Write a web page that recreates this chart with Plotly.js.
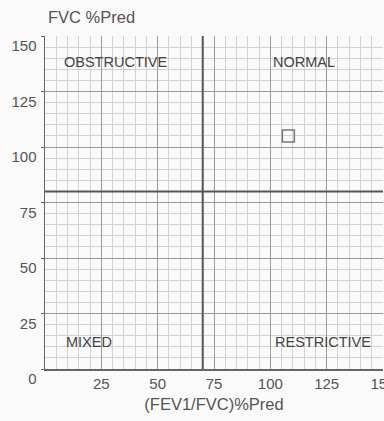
<!DOCTYPE html>
<html>
<head>
<meta charset="utf-8">
<script src="https://cdn.plot.ly/plotly-3.0.1.min.js"></script>
<style>html,body{margin:0;padding:0;background:#fafafa;}#chart{width:384px;height:421px;}</style>
</head>
<body>
<div id="chart"></div>
<script>
// Data
const fevFvcPred = [108];      // (FEV1/FVC)%Pred
const fvcPred = [105];         // FVC %Pred
const xTicks = [25, 50, 75, 100, 125, 150];
const yTicks = [0, 25, 50, 75, 100, 125, 150];
const fevFvcCutoff = 70;
const fvcCutoff = 80;
const quadrantLabels = ['OBSTRUCTIVE', 'NORMAL', 'MIXED', 'RESTRICTIVE'];

const txt = '#555';
const font = 'Liberation Sans, Arial, sans-serif';

const trace = {
  x: fevFvcPred, y: fvcPred, type: 'scatter', mode: 'markers',
  marker: {symbol: 'square-open', size: 12, color: '#777', line: {width: 1.5, color: '#777'}},
  hoverinfo: 'skip', showlegend: false, cliponaxis: false
};

const layout = {
  width: 384, height: 421,
  margin: {l: 45, r: 1, t: 36, b: 52},
  paper_bgcolor: '#fafafa', plot_bgcolor: '#fafafa',
  font: {family: font, color: txt, size: 15},
  title: {text: 'FVC %Pred', x: 0.125, xref: 'container', xanchor: 'left', y: 0.96, yanchor: 'middle',
          font: {family: font, size: 16.5, color: txt}},
  xaxis: {
    range: [0, 150], tickvals: xTicks, ticktext: xTicks.map(String),
    showgrid: true, gridcolor: '#9a9a9a', gridwidth: 1,
    minor: {dtick: 5, tick0: 0, showgrid: true, gridcolor: '#d2d2d2', gridwidth: 1},
    showline: true, linecolor: '#666', linewidth: 1.5, zeroline: false,
    ticks: '', tickfont: {size: 15, color: txt}, ticklabeloverflow: 'allow',
    title: {text: '(FEV1/FVC)%Pred', font: {size: 16.5, color: txt}, standoff: 8}
  },
  yaxis: {
    range: [0, 150], tickvals: yTicks, ticktext: yTicks.map(String),
    showgrid: true, gridcolor: '#9a9a9a', gridwidth: 1,
    minor: {dtick: 5, tick0: 0, showgrid: true, gridcolor: '#d2d2d2', gridwidth: 1},
    showline: true, linecolor: '#666', linewidth: 1.5, zeroline: false,
    ticks: 'outside', ticklen: 3, tickcolor: '#666', ticklabeloverflow: 'allow',
    tickfont: {size: 15, color: txt}, ticklabelshift: 10, ticklabelstandoff: 1
  },
  shapes: [
    {type: 'line', xref: 'x', yref: 'paper', x0: fevFvcCutoff, x1: fevFvcCutoff, y0: 0, y1: 1,
     line: {color: '#555', width: 2}},
    {type: 'line', xref: 'paper', yref: 'y', x0: 0, x1: 1, y0: fvcCutoff, y1: fvcCutoff,
     line: {color: '#555', width: 2}}
  ],
  annotations: [
    {text: quadrantLabels[0], x: 7.5, y: 138.5, xanchor: 'left', yanchor: 'middle'},
    {text: quadrantLabels[1], x: 100.5, y: 138.5, xanchor: 'left', yanchor: 'middle'},
    {text: quadrantLabels[2], x: 8.5, y: 12, xanchor: 'left', yanchor: 'middle'},
    {text: quadrantLabels[3], x: 101, y: 12, xanchor: 'left', yanchor: 'middle'}
  ].map(a => Object.assign({xref: 'x', yref: 'y', showarrow: false,
     font: {family: font, size: 14.5, color: '#444'}}, a))
};

Plotly.newPlot('chart', [trace], layout, {displayModeBar: false, staticPlot: true});
</script>
</body>
</html>
